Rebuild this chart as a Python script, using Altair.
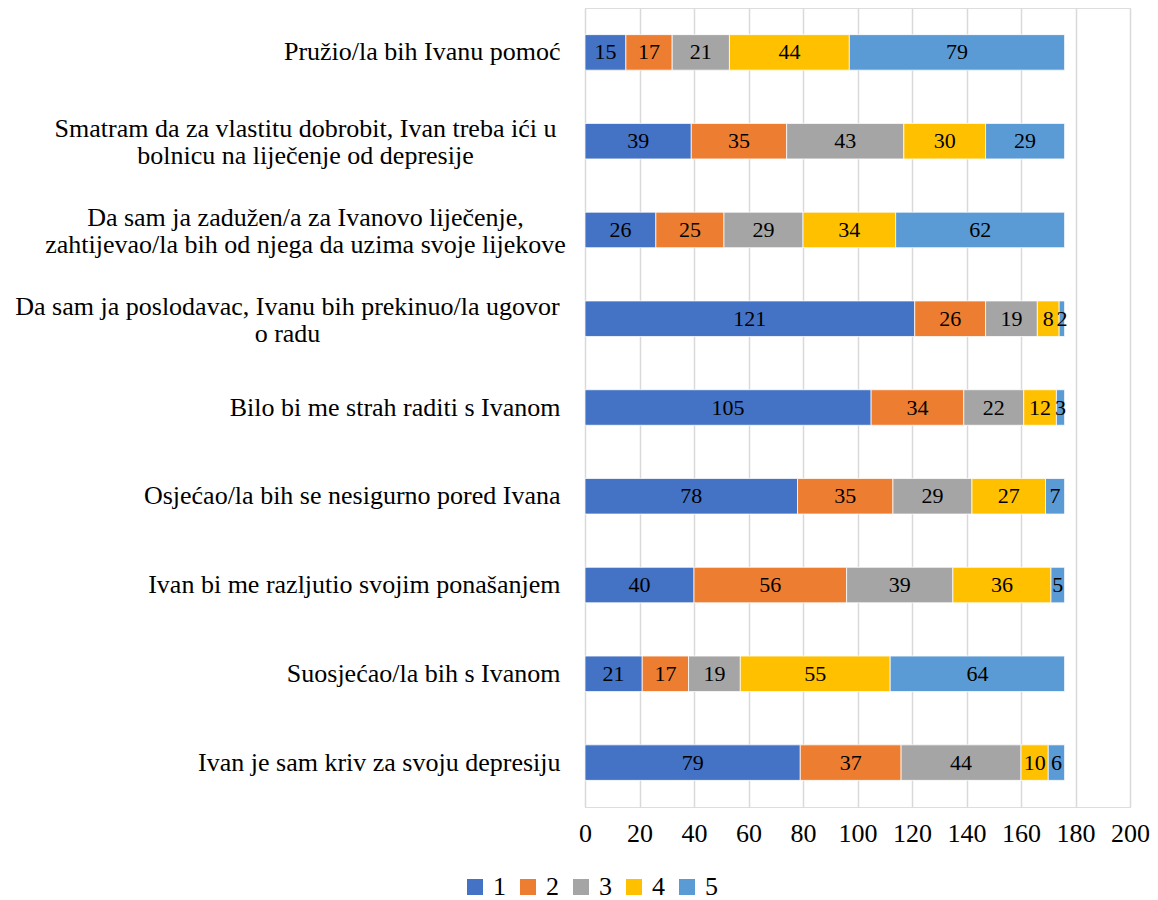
import altair as alt
import pandas as pd

categories = [
    "Pružio/la bih Ivanu pomoć",
    "Smatram da za vlastitu dobrobit, Ivan treba ići u|bolnicu na liječenje od depresije",
    "Da sam ja zadužen/a za Ivanovo liječenje,|zahtijevao/la bih od njega da uzima svoje lijekove",
    "Da sam ja poslodavac, Ivanu bih prekinuo/la ugovor|o radu",
    "Bilo bi me strah raditi s Ivanom",
    "Osjećao/la bih se nesigurno pored Ivana",
    "Ivan bi me razljutio svojim ponašanjem",
    "Suosjećao/la bih s Ivanom",
    "Ivan je sam kriv za svoju depresiju",
]
series_names = ["1", "2", "3", "4", "5"]
s1 = [15, 39, 26, 121, 105, 78, 40, 21, 79]
s2 = [17, 35, 25, 26, 34, 35, 56, 17, 37]
s3 = [21, 43, 29, 19, 22, 29, 39, 19, 44]
s4 = [44, 30, 34, 8, 12, 27, 36, 55, 10]
s5 = [79, 29, 62, 2, 3, 7, 5, 64, 6]
colors = ["#4472C4", "#ED7D31", "#A5A5A5", "#FFC000", "#5B9BD5"]
x_ticks = [0, 20, 40, 60, 80, 100, 120, 140, 160, 180, 200]

rows = []
for name, vals in zip(series_names, [s1, s2, s3, s4, s5]):
    for c, v in zip(categories, vals):
        rows.append({"cat": c, "series": name, "order": int(name), "value": v})
df = pd.DataFrame(rows)

FONT = "Liberation Serif"
MULTI = "indexof(datum.value, '|') >= 0"
WIDE = "indexof(datum.value, 'poslodavac') >= 0"

base = alt.Chart(df).encode(
    y=alt.Y(
        "cat:N",
        sort=categories,
        title=None,
        scale=alt.Scale(paddingInner=0.6, paddingOuter=0.3),
        axis=alt.Axis(
            labelExpr="split(datum.label, '|')",
            labelFont=FONT,
            labelFontSize=26,
            labelColor="#000000",
            labelLineHeight=27,
            labelLimit=1000,
            ticks=False,
            tickSize=0,
            domain=False,
            grid=False,
            labelAlign={"condition": {"test": MULTI, "value": "center"}, "value": "right"},
            labelPadding={
                "condition": [
                    {"test": WIDE, "value": 298},
                    {"test": MULTI, "value": 280},
                ],
                "value": 25,
            },
            labelOffset={"condition": {"test": MULTI, "value": -12}, "value": 0},
        ),
    ),
)

bars = base.mark_bar(stroke="white", strokeWidth=0.75).encode(
    x=alt.X(
        "sum(value):Q",
        stack="zero",
        title=None,
        scale=alt.Scale(domain=[0, 200], nice=False),
        axis=alt.Axis(
            values=x_ticks,
            labelFont=FONT,
            labelFontSize=26,
            labelColor="#000000",
            labelPadding=13,
            labelFlush=False,
            labelOverlap=False,
            ticks=False,
            domain=False,
            grid=True,
            gridColor="#d9d9d9",
            gridWidth=1.5,
        ),
    ),
    color=alt.Color(
        "series:N",
        scale=alt.Scale(domain=series_names, range=colors),
        legend=alt.Legend(
            title=None,
            orient="none",
            direction="horizontal",
            legendX=-123,
            legendY=866,
            symbolType="square",
            symbolSize=256,
            symbolStrokeWidth=0,
            labelFont=FONT,
            labelFontSize=26,
            labelColor="#000000",
            labelOffset=5,
            columnPadding=9,
        ),
    ),
    order=alt.Order("order:Q"),
)

texts = base.mark_text(font=FONT, fontSize=22, color="#000000").encode(
    x=alt.X("value:Q", stack="zero", bandPosition=0.5),
    text=alt.Text("value:Q"),
    detail="series:N",
    order=alt.Order("order:Q"),
)

chart = (
    alt.layer(bars, texts)
    .properties(
        width=545,
        height=799,
        autosize=alt.AutoSizeParams(type="none"),
        padding={"left": 577, "top": 0, "right": 20, "bottom": 93},
    )
    .configure_view(stroke=None)
    .configure(background="white")
)

chart.save("out.html", embed_options={"renderer": "svg", "actions": False})
